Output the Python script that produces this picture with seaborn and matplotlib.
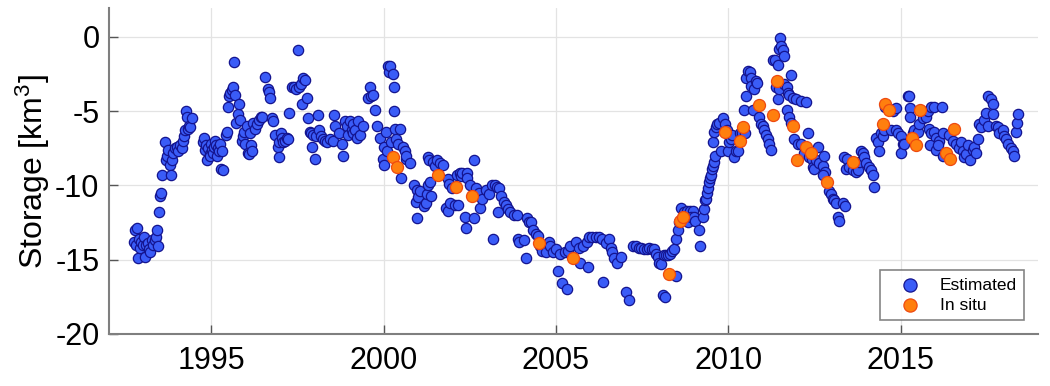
import numpy as np
import pandas as pd
import matplotlib
matplotlib.use('Agg')
import matplotlib.pyplot as plt
import seaborn as sns

# ---- DATA ----
est_year = [
    1992.77, 1992.80, 1992.85, 1992.83, 1992.88, 1992.91, 1992.94, 1992.97, 1993.03, 1993.06,
    1993.09, 1993.11, 1993.17, 1993.20, 1993.23, 1993.29, 1993.32, 1993.38, 1993.40, 1993.43,
    1993.46, 1993.49, 1993.52, 1993.55, 1993.58, 1993.67, 1993.70, 1993.72, 1993.75, 1993.81,
    1993.84, 1993.87, 1993.90, 1993.96, 1994.01, 1994.04, 1994.10, 1994.16, 1994.19, 1994.22,
    1994.25, 1994.28, 1994.31, 1994.33, 1994.36, 1994.39, 1994.45,
    1994.77, 1994.80, 1994.83, 1994.86, 1994.89, 1994.92, 1994.95, 1994.97, 1995.00, 1995.03,
    1995.06, 1995.09, 1995.12, 1995.15, 1995.17, 1995.20, 1995.23, 1995.26, 1995.29, 1995.32,
    1995.35, 1995.43, 1995.46, 1995.49, 1995.52, 1995.55, 1995.61, 1995.64, 1995.65, 1995.70,
    1995.73, 1995.78, 1995.81, 1995.84, 1995.90, 1995.93, 1995.96, 1995.99, 1996.05, 1996.08,
    1996.11, 1996.13, 1996.16, 1996.19, 1996.22, 1996.28, 1996.34, 1996.39, 1996.45, 1996.48,
    1996.57, 1996.66, 1996.69, 1996.71, 1996.77, 1996.80, 1996.86, 1996.95, 1996.96, 1996.97,
    1997.03, 1997.06, 1997.09, 1997.15, 1997.20, 1997.23, 1997.26, 1997.35, 1997.41, 1997.47,
    1997.52, 1997.55, 1997.61, 1997.62, 1997.67, 1997.73, 1997.79, 1997.82, 1997.87, 1997.90,
    1997.93, 1997.96, 1998.02, 1998.05, 1998.11, 1998.14, 1998.19, 1998.25, 1998.31, 1998.37,
    1998.46, 1998.52, 1998.57, 1998.60, 1998.72, 1998.78, 1998.81, 1998.89, 1998.95, 1998.98,
    1999.04, 1999.07, 1999.10, 1999.12, 1999.18, 1999.24, 1999.27, 1999.33, 1999.41, 1999.56,
    1999.62, 1999.65, 1999.68, 1999.74, 1999.82, 1999.91, 1999.97, 2000.00, 2000.02, 2000.08,
    2000.11, 2000.14, 2000.17, 2000.20, 2000.23, 2000.26, 2000.29, 2000.31, 2000.34, 2000.37,
    2000.43, 2000.49, 2000.52, 2000.55, 2000.61, 2000.64, 2000.66, 2000.78,
    2000.87, 2000.93, 2000.96, 2000.97, 2001.01, 2001.07, 2001.16, 2001.22, 2001.25, 2001.28,
    2001.30, 2001.33, 2001.36, 2001.39, 2001.42, 2001.48, 2001.54, 2001.65, 2001.71, 2001.80,
    2001.86, 2001.88, 2001.91, 2001.94, 2002.00, 2002.06, 2002.14, 2002.17, 2002.23, 2002.26,
    2002.29, 2002.35, 2002.38, 2002.41, 2002.43, 2002.52, 2002.61, 2002.62, 2002.67, 2002.76,
    2002.81, 2002.87, 2002.96, 2003.05, 2003.16, 2003.17, 2003.22, 2003.28, 2003.31, 2003.36,
    2003.42, 2003.48, 2003.54, 2003.60, 2003.68, 2003.77, 2003.86, 2003.89, 2003.94, 2004.06,
    2004.12,
    2004.17, 2004.23, 2004.29, 2004.35, 2004.41, 2004.47, 2004.55, 2004.61, 2004.70, 2004.79,
    2004.84, 2004.93, 2004.99, 2005.05, 2005.13, 2005.19, 2005.25, 2005.31, 2005.34, 2005.42,
    2005.57, 2005.66, 2005.71, 2005.80, 2005.89, 2005.94, 2005.97, 2006.06, 2006.15, 2006.24,
    2006.35, 2006.36, 2006.44, 2006.53, 2006.59, 2006.64, 2006.70, 2006.76, 2006.88, 2007.02,
    2007.11, 2007.23, 2007.32, 2007.40, 2007.46, 2007.55, 2007.64, 2007.69, 2007.78, 2007.84,
    2007.90, 2007.96, 2007.98, 2008.04, 2008.10, 2008.16, 2008.13, 2008.19, 2008.25, 2008.30,
    2008.36, 2008.42, 2008.48, 2008.49, 2008.53, 2008.56, 2008.62, 2008.71, 2008.80, 2008.88,
    2008.97, 2008.83, 2008.91, 2009.00, 2009.05, 2009.14, 2009.17,
    2009.26, 2009.29, 2009.32, 2009.35, 2009.38, 2009.40, 2009.43, 2009.46, 2009.49, 2009.52,
    2009.55, 2009.58, 2009.61, 2009.56, 2009.59, 2009.64, 2009.66, 2009.72, 2009.78, 2009.84,
    2009.90, 2009.96, 2009.98, 2010.01, 2010.07, 2010.10, 2010.16, 2010.22, 2010.27, 2010.33,
    2010.39, 2010.45, 2010.48, 2010.51, 2010.52, 2010.57, 2010.62, 2010.65, 2010.66, 2010.71,
    2010.74, 2010.80, 2010.83, 2010.88, 2010.94, 2011.00, 2011.03, 2011.09, 2011.15, 2011.17,
    2011.23, 2011.29, 2011.35, 2011.38, 2011.44, 2011.45, 2011.46, 2011.48, 2011.49, 2011.52,
    2011.58, 2011.61, 2011.62, 2011.70, 2011.71, 2011.73, 2011.75, 2011.76, 2011.81, 2011.82,
    2011.87, 2011.90, 2011.96, 2012.01, 2012.10, 2012.11, 2012.19, 2012.25, 2012.30, 2012.33,
    2012.42, 2012.45, 2012.48, 2012.54, 2012.59, 2012.62, 2012.74, 2012.77, 2012.82, 2012.75,
    2012.91, 2012.97, 2013.03, 2013.06, 2013.12, 2013.18, 2013.21, 2013.33, 2013.38, 2013.35,
    2013.44, 2013.41, 2013.50, 2013.61, 2013.70, 2013.76, 2013.79, 2013.85, 2013.91, 2013.93,
    2013.99, 2014.08, 2014.14, 2014.20, 2014.23, 2014.29, 2014.34, 2014.37, 2014.43, 2014.49,
    2014.52, 2014.55, 2014.63, 2014.78, 2014.86, 2014.72, 2014.87, 2014.92, 2015.01, 2015.07,
    2015.02, 2015.10, 2015.22, 2015.25, 2015.27, 2015.26, 2015.36, 2015.39, 2015.50, 2015.53,
    2015.65, 2015.74, 2015.80, 2015.88, 2015.97, 2016.20, 2015.83, 2015.89, 2015.98, 2016.03,
    2016.11, 2015.84, 2016.04, 2016.08, 2016.23, 2016.24, 2016.40, 2016.52, 2016.61, 2016.69,
    2016.75, 2016.81, 2016.84, 2016.90, 2016.96, 2017.01, 2017.10, 2017.13, 2017.19, 2017.25,
    2017.28, 2017.33, 2017.42, 2017.48, 2017.54, 2017.62, 2017.68, 2017.69, 2017.55, 2017.77,
    2017.83, 2017.86, 2017.97, 2018.00, 2018.06, 2018.12, 2018.20, 2018.26, 2018.29, 2018.35,
    2018.37, 2018.40,
]
est_storage = [
    -13.8, -13.0, -12.9, -14.0, -14.9, -13.6, -14.2, -13.8, -14.0, -13.5,
    -14.8, -14.0, -13.9, -14.3, -14.5, -13.7, -14.0, -13.7, -13.5, -13.0,
    -14.1, -11.8, -10.7, -10.5, -9.3, -7.1, -8.3, -8.0, -7.6, -8.6,
    -9.3, -8.3, -7.8, -7.5, -7.4, -7.7, -7.3, -7.5, -7.0, -6.7,
    -6.3, -5.0, -5.4, -6.2, -6.0, -6.1, -5.5,
    -7.1, -6.8, -7.6, -7.3, -8.3, -7.5, -7.9, -8.0, -7.2, -7.6,
    -7.8, -7.4, -7.0, -7.3, -8.0, -7.5, -7.7, -7.2, -8.9, -7.7,
    -9.0, -6.6, -6.4, -4.7, -4.0, -3.8, -3.6, -3.4, -1.7, -3.9,
    -5.8, -5.2, -4.5, -5.6, -7.0, -6.7, -6.4, -7.2, -6.0, -7.8,
    -7.9, -6.5, -7.3, -7.7, -5.8, -6.2, -5.9, -5.6, -5.4, -5.4,
    -2.7, -3.5, -3.7, -4.1, -5.5, -5.7, -6.6, -7.4, -8.1, -7.1,
    -6.5, -6.8, -7.1, -7.0, -6.8, -6.9, -5.1, -3.4, -3.4, -3.5,
    -0.9, -3.4, -3.2, -4.5, -2.8, -2.9, -4.1, -5.5, -6.4, -6.5,
    -7.4, -6.6, -8.2, -6.7, -5.3, -6.3, -6.7, -6.9, -7.0, -7.1,
    -6.9, -7.0, -5.3, -6.0, -6.5, -7.2, -8.0, -5.7, -6.0, -6.6,
    -5.7, -6.3, -5.9, -6.5, -6.3, -6.8, -5.7, -6.6, -6.0, -4.1,
    -3.4, -4.0, -3.9, -4.9, -6.0, -6.8, -8.2, -7.4, -8.6, -6.4,
    -7.7, -2.0, -2.4, -2.0, -7.1, -2.5, -3.4, -5.0, -6.2, -6.9,
    -7.2, -6.2, -9.5, -7.4, -7.7, -8.2, -8.0, -8.5,
    -10.0, -11.1, -10.3, -12.2, -10.8, -10.4, -11.4, -11.2, -10.6, -8.1,
    -10.0, -8.3, -9.8, -10.7, -8.4, -8.7, -8.3, -8.5, -8.6, -11.5,
    -9.6, -11.7, -9.9, -11.2, -10.2, -11.3, -9.3, -11.3, -9.2, -9.4,
    -9.2, -12.1, -12.9, -9.2, -9.5, -10.0, -8.3, -12.2, -10.2, -10.5,
    -11.5, -10.9, -10.3, -10.6, -10.0, -13.6, -10.0, -10.1, -11.8, -10.2,
    -10.7, -11.1, -11.3, -11.6, -11.8, -12.0, -12.0, -13.6, -13.8, -13.7,
    -14.9,
    -12.2, -12.5, -12.5, -13.0, -13.3, -13.4, -14.1, -14.4, -14.5, -13.8,
    -14.1, -14.5, -14.3, -15.8, -14.6, -16.6, -14.5, -17.0, -14.4, -14.1,
    -13.8, -14.2, -15.2, -14.1, -13.8, -15.5, -13.5, -13.5, -13.5, -13.5,
    -13.6, -16.5, -13.9, -13.6, -14.2, -14.5, -14.9, -15.2, -14.8, -17.2,
    -17.7, -14.1, -14.1, -14.2, -14.2, -14.3, -14.3, -14.2, -14.3, -14.3,
    -14.6, -14.8, -15.2, -15.3, -17.4, -17.5, -14.7, -14.7, -14.7, -14.6,
    -14.4, -14.3, -13.6, -16.1, -13.0, -12.5, -11.5, -11.8, -11.7, -11.7,
    -11.7, -12.5, -12.1, -12.1, -12.4, -13.0, -14.1,
    -12.1, -11.6, -11.0, -10.9, -10.5, -10.2, -9.8, -9.5, -9.3, -8.9,
    -8.7, -8.4, -8.0, -7.1, -6.4, -6.1, -5.9, -5.8, -7.7, -5.5,
    -5.9, -6.3, -7.7, -7.1, -6.9, -6.6, -8.1, -7.7, -7.7, -6.5,
    -6.5, -4.9, -6.5, -4.0, -2.8, -2.3, -2.4, -2.8, -3.3, -4.9,
    -3.5, -3.0, -3.1, -5.4, -5.9, -6.0, -6.3, -6.6, -6.9, -7.2,
    -7.6, -1.6, -1.6, -3.4, -1.9, -4.2, -3.5, -0.8, -0.1, -0.6,
    -0.9, -1.3, -3.2, -3.4, -4.9, -3.8, -5.4, -3.9, -2.6, -5.8,
    -4.1, -6.9, -4.2, -7.2, -4.3, -7.2, -7.8, -4.4, -6.5, -8.1,
    -8.2, -8.8, -8.9, -8.3, -7.4, -8.5, -8.7, -8.0, -9.1, -9.3,
    -10.4, -10.6, -10.9, -11.0, -11.2, -12.1, -12.4, -11.2, -11.4, -8.1,
    -8.2, -8.9, -8.8, -9.0, -9.1, -9.0, -8.4, -7.7, -7.8, -8.1,
    -8.5, -8.8, -9.0, -9.3, -10.1, -6.8, -7.1, -7.7, -6.5, -6.7,
    -6.3, -4.7, -4.8, -5.0, -4.8, -6.3, -6.3, -6.5, -6.7, -7.2,
    -7.8, -7.2, -4.0, -4.0, -4.8, -5.4, -6.5, -6.3, -6.4, -5.9,
    -5.5, -5.4, -5.0, -4.7, -4.7, -4.7, -6.2, -6.5, -6.4, -6.8,
    -7.0, -7.3, -7.6, -7.3, -6.5, -8.0, -6.6, -7.0, -7.2, -7.5,
    -7.1, -7.7, -8.1, -7.9, -7.3, -8.3, -7.6, -7.4, -7.8, -6.9,
    -5.9, -6.1, -5.6, -5.1, -4.0, -4.2, -4.5, -5.2, -6.0, -6.0,
    -6.1, -6.5, -6.3, -6.7, -6.9, -7.2, -7.5, -7.7, -8.0, -6.4,
    -5.8, -5.2,
]

insitu_year = [
    2000.26, 2000.40, 2001.59, 2002.11, 2002.58, 2004.52, 2005.51, 2008.27, 2008.59, 2008.70,
    2009.90, 2010.33, 2010.42, 2010.88, 2011.29, 2011.41, 2011.87, 2011.99, 2012.25, 2012.39,
    2012.86, 2013.61, 2014.48, 2014.54, 2014.66, 2015.33, 2015.44, 2015.56, 2016.31, 2016.43,
    2016.54,
]
insitu_storage = [
    -8.1, -8.8, -9.3, -10.1, -10.7, -13.9, -14.9, -16.0, -12.4, -12.1,
    -6.4, -7.0, -6.1, -4.6, -5.3, -3.0, -6.0, -8.3, -7.4, -7.8,
    -9.8, -8.4, -5.9, -4.5, -4.9, -6.8, -7.3, -4.9, -7.8, -8.2,
    -6.2,
]

xticks = [1995, 2000, 2005, 2010, 2015]
yticks = [0, -5, -10, -15, -20]

est = pd.DataFrame({'year': est_year, 'storage': est_storage})
insitu = pd.DataFrame({'year': insitu_year, 'storage': insitu_storage})

# ---- PLOT ----
sns.set_style('whitegrid')
plt.rcParams['font.family'] = ['Liberation Sans', 'DejaVu Sans']
plt.rcParams['axes.unicode_minus'] = False
plt.rcParams['mathtext.default'] = 'regular'
plt.rcParams['text.color'] = 'black'
plt.rcParams['axes.labelcolor'] = 'black'
plt.rcParams['xtick.color'] = 'black'
plt.rcParams['ytick.color'] = 'black'

fig = plt.figure(figsize=(10.5, 3.86), dpi=100)
ax = fig.add_axes([0.104, 0.135, 0.885, 0.843])

sns.scatterplot(data=est, x='year', y='storage', ax=ax, s=55,
                color='#3a5cf7', edgecolor='#14148f', linewidth=0.9,
                label='Estimated', zorder=3)
sns.scatterplot(data=insitu, x='year', y='storage', ax=ax, s=75,
                color='#ff7f0e', edgecolor='#ee4a10', linewidth=0.9,
                label='In situ', zorder=4)

ax.set_xlim(1992.04, 2019.0)
ax.set_ylim(-20, 1.9)
ax.set_xticks(xticks)
ax.set_yticks(yticks)
ax.set_xlabel('')
ax.set_ylabel('Storage [km$^{3}$]', fontsize=23, labelpad=2)

ax.grid(True, color='#e3e3e3', linewidth=0.9)
for side in ['top', 'right']:
    ax.spines[side].set_visible(False)
for side in ['left', 'bottom']:
    ax.spines[side].set_color('#7f7f7f')
    ax.spines[side].set_linewidth(1.5)
ax.tick_params(axis='both', which='major', bottom=True, left=True,
               direction='in', length=6.5, width=1, color='#555555',
               labelsize=22)
ax.tick_params(axis='x', pad=9)
ax.tick_params(axis='y', pad=7)

leg = ax.legend(loc='lower right', bbox_to_anchor=(0.984, 0.043),
                borderaxespad=0, fontsize=12.5, frameon=True, fancybox=False,
                edgecolor='#666666', borderpad=0.4, handlelength=2.6,
                handletextpad=0.4, labelspacing=0.3)
leg.get_frame().set_linewidth(1.2)
for h in leg.legend_handles:
    h.set_sizes([90])

fig.savefig('out.png', dpi=100)
